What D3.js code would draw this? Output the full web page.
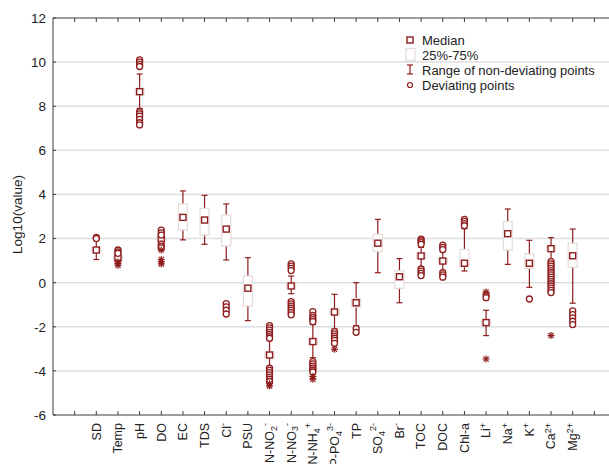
<!DOCTYPE html>
<html><head><meta charset="utf-8">
<script src="https://cdn.jsdelivr.net/npm/d3@7"></script>
<style>
html,body{margin:0;padding:0;background:#fff;}
svg{display:block;font-family:"Liberation Sans",Arial,sans-serif;}
</style></head>
<body>
<script>
// ---- data ----
const categories = ["SD","Temp","pH","DO","EC","TDS","Cl","PSU","N-NO","N-NO","N-NH","P-PO","TP","SO","Br","TOC","DOC","Chl-a","Li","Na","K","Ca","Mg"];
const labelSub   = ["","","","","","","","","2","3","4","4","","4","","","","","","","","",""];
const labelSup   = ["","","","","","","-","","-","-","+","3-","","2-","-","","","","+","+","+","2+","2+"];
const medians = [1.48,1.13,8.66,2.0,2.96,2.84,2.43,-0.25,-3.28,-0.15,-2.67,-1.33,-0.91,1.79,0.27,1.21,0.98,0.88,-1.81,2.22,0.88,1.54,1.22];
const q1s     = [1.38,1.05,8.52,1.92,2.39,2.16,1.66,-1.06,-3.40,-0.26,-2.80,-1.45,-1.10,1.41,-0.26,1.10,0.90,0.73,-1.92,1.48,0.65,1.44,0.70];
const q3s     = [1.60,1.20,8.82,2.08,3.57,3.37,3.07,0.30,-3.15,-0.04,-2.55,-1.20,-0.72,2.20,0.54,1.35,1.10,1.51,-1.70,2.77,1.30,1.64,1.79];
const whiskLo = [1.05,1.00,7.90,1.85,1.94,1.74,1.03,-1.72,-3.80,-0.50,-3.40,-2.10,-1.95,0.45,-0.91,0.70,0.55,0.53,-2.40,0.83,-0.21,1.05,-0.93];
const whiskHi = [1.95,1.25,9.46,2.15,4.16,3.96,3.57,1.13,-2.60,0.30,-1.90,-0.53,0.00,2.87,1.09,1.60,1.40,2.45,-1.25,3.34,1.92,2.04,2.43];
const outliers = [
  [2.05,2.0],
  [1.48,1.40,1.33],
  [10.1,10.0,9.9,9.8,7.75,7.65,7.55,7.4,7.25,7.15],
  [2.38,2.26,2.16,1.75,1.66,1.58],
  [],[],
  [-0.95,-1.1,-1.25,-1.42],
  [],
  [-1.95,-2.05,-2.15,-2.25,-2.35,-2.45,-2.52,-3.88,-3.98,-4.08,-4.18,-4.28,-4.38,-4.48],
  [0.85,0.75,0.65,0.55,-0.86,-0.96,-1.06,-1.16,-1.26,-1.36,-1.46],
  [-1.31,-1.48,-1.58,-1.68,-1.77,-3.58,-3.68,-3.78,-3.88,-3.97,-4.05],
  [-2.22,-2.32,-2.42,-2.52,-2.62,-2.75],
  [-2.08,-2.25],
  [],[],
  [1.97,1.9,1.82,1.74,0.62,0.52,0.42,0.32],
  [1.7,1.6,1.5,0.45,0.35,0.25],
  [2.87,2.78,2.68,2.58],
  [-0.55,-0.68],
  [],
  [-0.74],
  [0.95,0.85,0.75,0.65,0.55,0.45,0.35,0.25,0.15,0.05,-0.05,-0.15,-0.25,-0.35,-0.45],
  [-1.28,-1.45,-1.6,-1.75,-1.9]
];
const extremes = [
  [],
  [0.95,0.87,0.79],
  [],
  [1.48,1.05,0.95,0.85],
  [],[],[],[],
  [-4.58,-4.68],
  [],
  [-4.25,-4.38],
  [-3.02],
  [],[],[],[],[],[],
  [-0.42,-3.46],
  [],[],
  [-2.4],
  []
];
const yTicks = [-6,-4,-2,0,2,4,6,8,10,12];
const legendItems = ["Median","25%-75%","Range of non-deviating points","Deviating points"];

// ---- drawing ----
const W = 609, H = 464;
const red = "#8f1d1d";
const svg = d3.select("body").append("svg").attr("width", W).attr("height", H);

const x = d3.scaleLinear().domain([0, 26]).range([53, 616]);
const y = d3.scaleLinear().domain([-6, 12]).range([415, 18]);
const pos = i => i + 2; // category position on the axis

// gridlines
svg.append("g").selectAll("line").data(yTicks.filter(t => t > -6 && t < 12)).join("line")
  .attr("x1", x(0)).attr("x2", W).attr("y1", d => y(d)).attr("y2", d => y(d))
  .attr("stroke", "#dedede").attr("stroke-width", 1.5);

// axes frame
const axisCol = "#3a3a3a";
svg.append("line").attr("x1", x(0)).attr("x2", W).attr("y1", y(12)).attr("y2", y(12)).attr("stroke", axisCol);
svg.append("line").attr("x1", x(0)).attr("x2", W).attr("y1", y(-6)).attr("y2", y(-6)).attr("stroke", axisCol);
svg.append("line").attr("x1", x(0)).attr("x2", x(0)).attr("y1", y(12)).attr("y2", y(-6)).attr("stroke", axisCol);

// x ticks top & bottom
const tickPos = d3.range(1, 26);
svg.append("g").selectAll("line").data(tickPos).join("line")
  .attr("x1", d => x(d)).attr("x2", d => x(d)).attr("y1", y(-6)).attr("y2", y(-6) - 4).attr("stroke", axisCol);
svg.append("g").selectAll("line").data(tickPos).join("line")
  .attr("x1", d => x(d)).attr("x2", d => x(d)).attr("y1", y(12)).attr("y2", y(12) + 4).attr("stroke", axisCol);
// y ticks
svg.append("g").selectAll("line").data(yTicks).join("line")
  .attr("x1", x(0)).attr("x2", x(0) + 3).attr("y1", d => y(d)).attr("y2", d => y(d)).attr("stroke", axisCol);
svg.append("g").selectAll("text").data(yTicks).join("text")
  .attr("x", 46).attr("y", d => y(d)).attr("dy", "0.36em").attr("text-anchor", "end")
  .attr("font-size", 13.5).attr("fill", "#222").text(d => d);

// y title
svg.append("text").attr("transform", `translate(22,${(y(12) + y(-6)) / 2 - 2}) rotate(-90)`)
  .attr("text-anchor", "middle").attr("font-size", 13.5).attr("fill", "#222").text("Log10(value)");

// x labels
categories.forEach((c, i) => {
  const t = svg.append("text")
    .attr("transform", `translate(${x(pos(i))},${y(-6) + 8}) rotate(-90)`)
    .attr("text-anchor", "end").attr("dy", "0.35em").attr("font-size", 12.5).attr("fill", "#222");
  t.append("tspan").text(c);
  if (labelSub[i]) t.append("tspan").attr("dy", "0.3em").attr("font-size", "0.72em").text(labelSub[i]);
  if (labelSup[i]) t.append("tspan").attr("dy", labelSub[i] ? "-0.95em" : "-0.5em").attr("font-size", "0.72em").text(labelSup[i]);
});

// boxes
const g = svg.append("g");
categories.forEach((c, i) => {
  const cx = x(pos(i));
  g.append("line").attr("x1", cx).attr("x2", cx).attr("y1", y(whiskLo[i])).attr("y2", y(whiskHi[i]))
    .attr("stroke", red).attr("stroke-width", 1.2);
  [whiskLo[i], whiskHi[i]].forEach(v => g.append("line").attr("x1", cx - 3).attr("x2", cx + 3)
    .attr("y1", y(v)).attr("y2", y(v)).attr("stroke", red).attr("stroke-width", 1.2));
  g.append("rect").attr("x", cx - 4.5).attr("width", 9).attr("y", y(q3s[i])).attr("height", y(q1s[i]) - y(q3s[i]))
    .attr("fill", "#fff").attr("stroke", "#e6dada").attr("stroke-width", 1.2);
  g.append("rect").attr("x", cx - 3).attr("width", 6).attr("y", y(medians[i]) - 3).attr("height", 6)
    .attr("fill", "#fff").attr("stroke", red).attr("stroke-width", 1.4);
  outliers[i].forEach(v => g.append("circle").attr("cx", cx).attr("cy", y(v)).attr("r", 3)
    .attr("fill", "#fff").attr("stroke", red).attr("stroke-width", 1.3));
  extremes[i].forEach(v => {
    const s = g.append("g").attr("transform", `translate(${cx},${y(v)})`).attr("stroke", red).attr("stroke-width", 1.2);
    [[-3.5,0,3.5,0],[0,-3.5,0,3.5],[-2.6,-2.6,2.6,2.6],[-2.6,2.6,2.6,-2.6]].forEach(l =>
      s.append("line").attr("x1", l[0]).attr("y1", l[1]).attr("x2", l[2]).attr("y2", l[3]));
  });
});

// legend
const lx = 410, ly = [40, 55, 70, 85];
const lg = svg.append("g");
lg.append("rect").attr("x", lx - 3).attr("y", ly[0] - 3).attr("width", 6).attr("height", 6)
  .attr("fill", "#fff").attr("stroke", red).attr("stroke-width", 1.4);
lg.append("rect").attr("x", lx - 4).attr("y", ly[1] - 6.5).attr("width", 9).attr("height", 12)
  .attr("fill", "#fff").attr("stroke", "#e6dada").attr("stroke-width", 1.2);
lg.append("line").attr("x1", lx).attr("x2", lx).attr("y1", ly[2] - 5).attr("y2", ly[2] + 4).attr("stroke", red).attr("stroke-width", 1.2);
lg.append("line").attr("x1", lx - 3).attr("x2", lx + 3).attr("y1", ly[2] - 5).attr("y2", ly[2] - 5).attr("stroke", red).attr("stroke-width", 1.2);
lg.append("line").attr("x1", lx - 3).attr("x2", lx + 3).attr("y1", ly[2] + 4).attr("y2", ly[2] + 4).attr("stroke", red).attr("stroke-width", 1.2);
lg.append("circle").attr("cx", lx).attr("cy", ly[3]).attr("r", 2.5).attr("fill", "#fff").attr("stroke", red).attr("stroke-width", 1.2);
lg.selectAll("text").data(legendItems).join("text")
  .attr("x", 422).attr("y", (d, i) => ly[i]).attr("dy", "0.36em")
  .attr("font-size", 13).attr("fill", "#222").text(d => d);
</script>
</body></html>
